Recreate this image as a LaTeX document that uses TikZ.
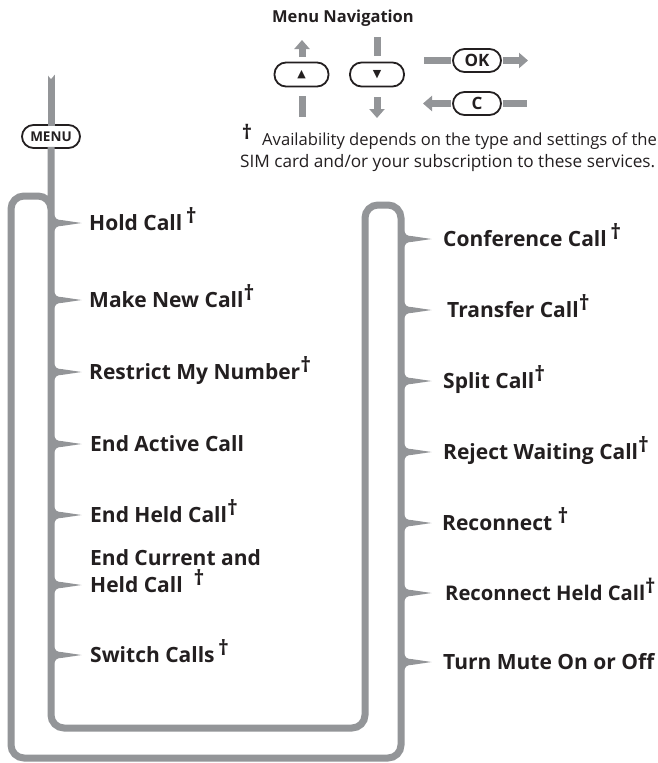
\documentclass[tikz,border=0pt]{standalone}
\usepackage{fontspec}
\setmainfont{Open Sans}
\newfontfamily\symfont{DejaVu Sans}
\usetikzlibrary{arrows.meta}
\definecolor{navgray}{HTML}{939598}
\definecolor{ink}{HTML}{231F20}
\newcommand\dg{\raisebox{7pt}{†}}
\tikzset{
  gl/.style={draw=navgray,line width=7pt},
  garrow/.style={gl,-{Triangle[length=9pt,width=15pt]}},
  pillbtn/.style={draw=ink,fill=white,line width=1.8pt,rounded corners=11.5pt,minimum height=24pt,inner sep=0pt,text=ink},
  item/.style={anchor=base west,text=ink,font=\bfseries\fontsize{21}{27}\selectfont,inner sep=0pt,align=left},
  spike/.pic={\fill[navgray] (-1.5,-13) .. controls (0,-4) and (2,-3) .. (8,-2.8) -- (27,0) -- (8,2.8) .. controls (2,3) and (0,4) .. (-1.5,13) -- cycle;}
}
\begin{document}
\begin{tikzpicture}[x=1pt,y=-1pt]
\useasboundingbox[fill=white] (0,0) rectangle (658,763);

% ---- Menu navigation legend
\node[text=ink,font=\bfseries\fontsize{16.5}{18}\selectfont] (navtitle) at (343,18) {Menu Navigation};
\node[pillbtn,minimum width=54pt] (up) at (301.5,74.5) {\symfont\fontsize{11}{11}\selectfont ▲};
\node[pillbtn,minimum width=54pt] (down) at (377,74.5) {\symfont\fontsize{11}{11}\selectfont ▼};
\node[pillbtn,minimum width=48pt,minimum height=23pt,font=\bfseries\fontsize{17}{17}\selectfont] (ok) at (477,60.5) {OK};
\node[pillbtn,minimum width=48pt,minimum height=23pt,font=\bfseries\fontsize{17}{17}\selectfont] (c) at (477,103.5) {C};
\coordinate (upA) at (302,57);
\coordinate (uptip) at (302,40);
\coordinate (upB) at (302,96);
\coordinate (upbar) at (302,117);
\coordinate (downbar) at (377,37);
\coordinate (downA) at (377,56);
\coordinate (downB) at (377,97);
\coordinate (downtip) at (377,118);
\coordinate (okbar) at (424,60.5);
\coordinate (oktip) at (528,60.5);
\coordinate (ctip) at (423,103.5);
\coordinate (cbar) at (527,103.5);
\draw[garrow] (upA) -- (uptip);
\draw[gl] (upB) -- (upbar);
\draw[gl] (downbar) -- (downA);
\draw[garrow] (downB) -- (downtip);
\draw[gl] (okbar) -- ([xshift=-1pt]ok.west);
\draw[garrow] ([xshift=1pt]ok.east) -- (oktip);
\draw[garrow] ([xshift=-1pt]c.west) -- (ctip);
\draw[gl] ([xshift=1pt]c.east) -- (cbar);

% ---- footnote
\node[text=ink,font=\bfseries\fontsize{20}{20}\selectfont,inner sep=0pt] (fdag) at (247,132) {†};
\node[anchor=base west,text=ink,font=\fontsize{16.6}{22}\selectfont,inner sep=0pt] (fn1) at (262,145) {Availability depends on the type and settings of the};
\node[anchor=base west,text=ink,font=\fontsize{17.2}{22}\selectfont,inner sep=0pt] (fn2) at (240,167) {SIM card and/or your subscription to these services.};

% ---- MENU key and tracks
\node[pillbtn,minimum width=58pt,minimum height=23pt,font=\bfseries\fontsize{13.5}{14}\selectfont] (menu) at (51,136.5) {MENU};
\coordinate (tail) at (51,74);
\draw[gl] (tail) -- ([yshift=-2pt]menu.north);
\fill[white] (46,73) -- (51,79) -- (56,73) -- cycle;
\draw[gl,rounded corners=13pt] ([yshift=2pt]menu.south) -- (51,728) -- (365,728) -- (365,205) -- (401,205) -- (401,758) -- (11,758) -- (11,196) -- (51,196) -- (51,216);

% ---- left items
\foreach \yy in {223,300,372,444,515,585,655} { \pic at (54.5,\yy) {spike}; }
\node[item] (hold) at (89,230.5) {Hold Call\,\dg};
\node[item] (newcall) at (89,307.5) {Make New Call\dg};
\node[item] (restrict) at (89,379.5) {Restrict My Number\dg};
\node[item] (endactive) at (90,451.5) {End Active Call};
\node[item] (endheld) at (90,522.5) {End Held Call\dg};
\node[item] (endcur) at (90,592.5) {End Current and\\Held Call\ \ \dg};
\node[item] (switch) at (90,662.5) {Switch Calls\,\dg};

% ---- right items
\foreach \yy in {239,310,381,452,523,593,662} { \pic at (404.5,\yy) {spike}; }
\node[item] (conf) at (443,246.5) {Conference Call\,\dg};
\node[item] (transfer) at (447,317.5) {Transfer Call\dg};
\node[item] (split) at (443,388.5) {Split Call\dg};
\node[item] (reject) at (443,459.5) {Reject Waiting Call\dg};
\node[item] (reconnect) at (442,530.5) {Reconnect \dg};
\node[item,font=\bfseries\fontsize{20.2}{27}\selectfont] (recheld) at (445,600.5) {Reconnect Held Call\dg};
\node[item] (mute) at (443,669.5) {Turn Mute On or Off};
\end{tikzpicture}
\end{document}
